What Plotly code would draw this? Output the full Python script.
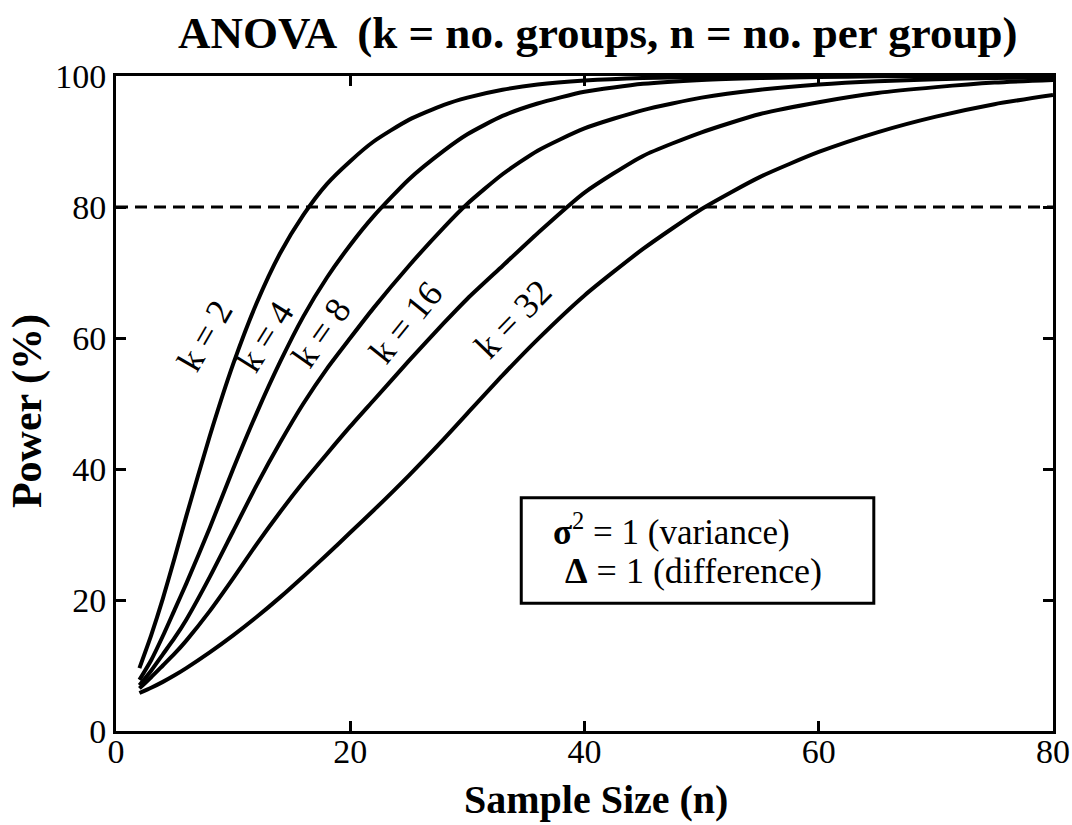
import plotly.graph_objects as go

# ---- data ----
n_values = [2, 3, 4, 5, 6, 8, 10, 12, 14, 16, 18, 20, 22, 25, 28, 30, 33, 36, 40, 45, 50, 55, 60, 65, 70, 75, 80]

power_k2 = [9.6, 14.6, 20.2, 26.4, 32.8, 45.0, 56.0, 65.3, 72.9, 78.8, 83.5, 87.0, 90.0, 93.3, 95.6, 96.7, 97.9, 98.7, 99.3, 99.7, 99.85, 99.95, 100, 100, 100, 100, 100]
power_k4 = [7.8, 10.8, 14.5, 18.5, 22.5, 31.0, 40.0, 48.5, 56.3, 63.3, 69.2, 74.2, 78.6, 84.2, 88.6, 91.1, 93.9, 95.8, 97.6, 98.8, 99.4, 99.7, 99.85, 99.95, 100, 100, 100]
power_k8 = [7.0, 9.2, 11.7, 14.2, 17.0, 23.5, 30.5, 37.5, 44.0, 50.0, 55.3, 60.0, 64.6, 71.0, 76.9, 80.5, 85.0, 88.6, 92.0, 94.8, 96.7, 97.9, 98.7, 99.2, 99.5, 99.7, 99.8]
power_k16 = [6.5, 8.2, 10.0, 11.8, 13.8, 18.3, 23.3, 28.5, 33.4, 38.0, 42.3, 46.5, 50.5, 56.5, 62.3, 66.0, 71.0, 76.0, 82.2, 87.8, 91.4, 94.2, 96.0, 97.4, 98.3, 99.0, 99.4]
power_k32 = [5.8, 6.6, 7.5, 8.5, 9.6, 12.0, 14.6, 17.4, 20.4, 23.6, 26.9, 30.3, 33.7, 39.0, 44.6, 48.5, 54.3, 59.8, 66.5, 73.6, 79.7, 84.6, 88.4, 91.4, 93.8, 95.7, 97.1]

series = [("k = 2", power_k2), ("k = 4", power_k4), ("k = 8", power_k8),
          ("k = 16", power_k16), ("k = 32", power_k32)]

target_power = 80
x_range = [0, 80]
x_ticks = [0, 20, 40, 60, 80]
y_ticks = [0, 20, 40, 60, 80, 100]

# label positions (data coords) and angles
label_x = [7.57, 12.7, 17.5, 24.8, 33.9]
label_y = [60.3, 60.2, 60.8, 62.4, 62.9]
label_angle = [-60, -58, -55, -51, -46]

FONT = "Liberation Serif, Times New Roman, serif"

fig = go.Figure()

for name, ys in series:
    fig.add_trace(go.Scatter(x=n_values, y=ys, mode="lines", name=name,
                             line=dict(color="black", width=4, shape="spline", smoothing=0.6),
                             showlegend=False, hoverinfo="skip"))

fig.add_trace(go.Scatter(x=x_range, y=[target_power, target_power], mode="lines",
                         line=dict(color="black", width=3, dash="12px,7px"),
                         showlegend=False, hoverinfo="skip"))

annotations = []
for (name, _), lx, ly, ang in zip(series, label_x, label_y, label_angle):
    annotations.append(dict(x=lx, y=ly, xref="x", yref="y", text=name, showarrow=False,
                            textangle=ang, xanchor="center", yanchor="middle",
                            font=dict(family=FONT, size=36, color="black")))

# legend-like text box
annotations.append(dict(x=37.1, y=30.7, xref="x", yref="y", xanchor="left", yanchor="middle",
                        text="<b>σ</b><sup>2</sup> = 1 (variance)", showarrow=False,
                        font=dict(family=FONT, size=35, color="black")))
annotations.append(dict(x=38.2, y=24.4, xref="x", yref="y", xanchor="left", yanchor="middle",
                        text="<b>Δ</b> = 1 (difference)", showarrow=False,
                        font=dict(family=FONT, size=36, color="black")))

# titles
annotations.append(dict(x=0.514, y=1.066, xref="paper", yref="paper",
                        xanchor="center", yanchor="middle",
                        text="<b>ANOVA  (k = no. groups, n = no. per group)</b>", showarrow=False,
                        font=dict(family=FONT, size=45, color="black")))
annotations.append(dict(x=0.512, y=-0.105, xref="paper", yref="paper",
                        xanchor="center", yanchor="middle",
                        text="<b>Sample Size (n)</b>", showarrow=False,
                        font=dict(family=FONT, size=40, color="black")))
annotations.append(dict(x=-0.0946, y=0.489, xref="paper", yref="paper",
                        xanchor="center", yanchor="middle",
                        text="<b>Power (%)</b>", showarrow=False, textangle=-90,
                        font=dict(family=FONT, size=42, color="black")))

axis_common = dict(showgrid=False, zeroline=False, showline=True, linecolor="black",
                   linewidth=3, mirror="allticks", ticks="inside", ticklen=10,
                   tickwidth=3, tickcolor="black", automargin=False,
                   tickfont=dict(family=FONT, size=34, color="black"))

fig.update_layout(
    width=1072, height=825,
    margin=dict(l=116, r=19, t=76, b=94, autoexpand=False),
    paper_bgcolor="white", plot_bgcolor="white",
    xaxis=dict(range=x_range, tickvals=x_ticks, ticklabelstandoff=-12, **axis_common),
    yaxis=dict(range=[0, 100], tickvals=y_ticks, **axis_common),
    annotations=annotations,
    shapes=[dict(type="rect", xref="x", yref="y", x0=34.6, x1=64.7, y0=19.5, y1=35.6,
                 line=dict(color="black", width=3), fillcolor="rgba(0,0,0,0)")],
)

fig.write_html("out.html")
